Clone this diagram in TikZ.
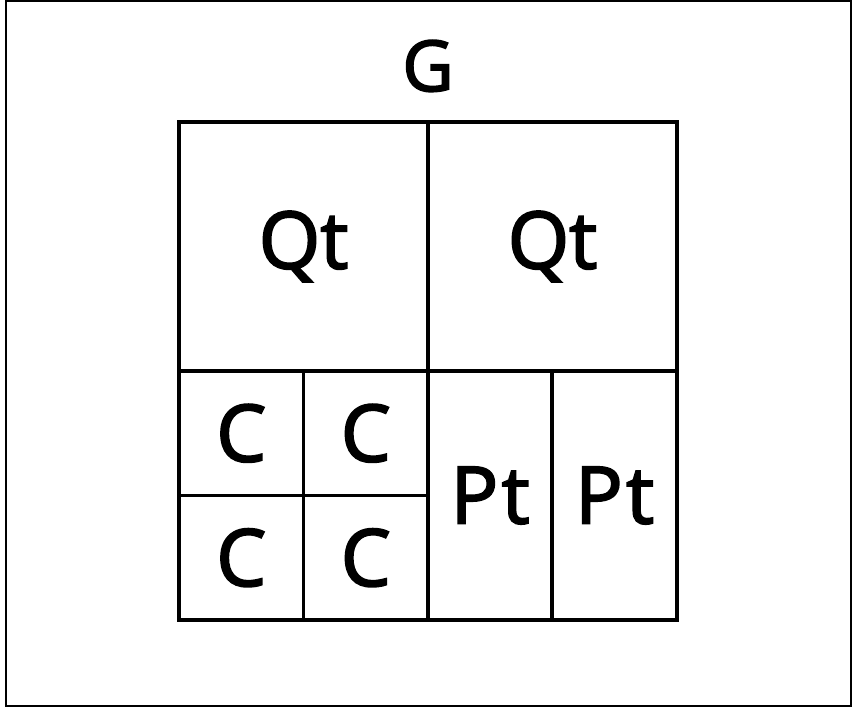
\documentclass[tikz,border=0pt]{standalone}
\usepackage{fontspec}
\setmainfont{Open Sans}[FakeBold=2.5]
\usetikzlibrary{positioning}

\begin{document}
\begin{tikzpicture}[
    x=0.02cm, y=0.02cm,
    cell/.style={rectangle, draw, line width=2.2pt, outer sep=0pt, inner sep=0pt, text centered, font=\fontsize{45}{50}\selectfont},
    big/.style={cell, minimum width=4.98cm, minimum height=4.98cm},
    small/.style={cell, minimum width=2.49cm, minimum height=2.49cm},
    tall/.style={cell, minimum width=2.49cm, minimum height=4.98cm},
]
    % frame of the page
    \draw[line width=1.2pt] (6,2) rectangle (851,707);
    \useasboundingbox (0,0) rectangle (853,708);

    % top row
    \node[big, anchor=north west] (qleft) at (179,586) {Qt};
    \node[big, right=0cm of qleft] (qright) {Qt};

    % lower left: four C cells
    \node[small, anchor=north west] (ctl) at (qleft.south west) {C};
    \node[small, right=0cm of ctl] (ctr) {C};
    \node[small, below=0cm of ctl] (cbl) {C};
    \node[small, below=0cm of ctr] (cbr) {C};

    % lower right: two Pt cells
    \node[tall, anchor=north west] (pleft) at (qright.south west) {P\kern2pt t};
    \node[tall, right=0cm of pleft] (pright) {P\kern2pt t};

    % title
    \node[font=\fontsize{40}{44}\selectfont, inner sep=0pt, above=0.6cm of qleft.north east] (title) {G};
\end{tikzpicture}
\end{document}
